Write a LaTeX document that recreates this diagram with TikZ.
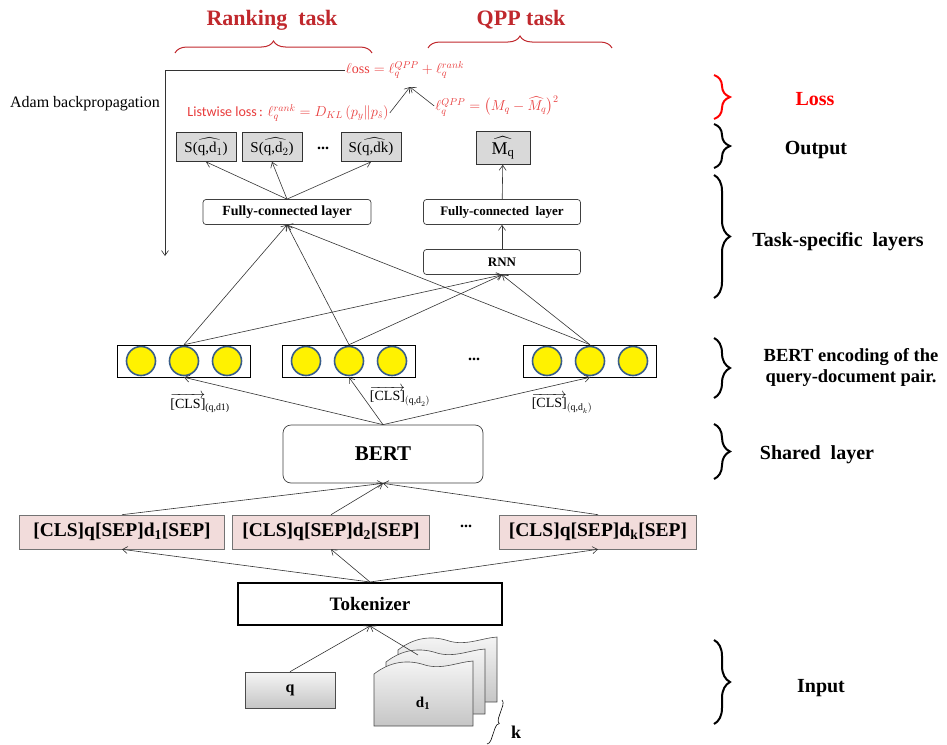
\documentclass[tikz,border=0pt]{standalone}
\usepackage{amsmath}
\usepackage{fontspec}
\setmainfont{Liberation Serif}
\newfontfamily\calibfont{Carlito}
\usetikzlibrary{arrows.meta,positioning,calc,decorations.pathreplacing}
\definecolor{titlered}{RGB}{192,40,45}
\definecolor{formred}{RGB}{232,60,60}
\definecolor{lossred}{RGB}{255,0,0}
\definecolor{seqpink}{RGB}{242,220,219}
\definecolor{outgray}{RGB}{217,217,217}
\definecolor{unitedge}{RGB}{56,93,138}
\tikzset{
  qpedge/.style={->,>={Straight Barb[length=5pt,width=7pt]},line width=0.6pt,draw=black!80},
  qplayer/.style={rectangle,rounded corners=3pt,draw=black!75,fill=white,line width=0.7pt,
    inner sep=0pt,minimum height=25pt,font=\bfseries\fontsize{14}{16}\selectfont},
  qpscore/.style={rectangle,draw=black!80,fill=outgray,line width=0.7pt,inner sep=0pt,
    minimum width=60pt,minimum height=29pt,font=\fontsize{15}{17}\selectfont},
  qpseq/.style={rectangle,draw=black!55,fill=seqpink,line width=0.6pt,inner sep=0pt,
    minimum width=197pt,minimum height=34pt,font=\bfseries\fontsize{19.5}{21}\selectfont},
  qpenc/.style={rectangle,draw=black,fill=white,line width=0.6pt,inner sep=0pt,
    minimum width=133pt,minimum height=32pt},
  qpunit/.style={circle,draw=unitedge,fill=yellow,line width=1.6pt,minimum size=29pt,inner sep=0pt},
  qpinput/.style={rectangle,draw=black!70,line width=0.6pt,top color=gray!8,bottom color=gray!45,
    inner sep=0pt,minimum width=90pt,minimum height=36pt,font=\bfseries\fontsize{16}{18}\selectfont},
  qpdoc/.style={draw=black!70,line width=0.6pt,top color=gray!8,bottom color=gray!45},
  qpbrace/.style={decorate,decoration={brace,amplitude=16pt},line width=2pt},
  qptopbrace/.style={decorate,decoration={brace,amplitude=12pt},line width=1pt,draw=titlered},
  qpside/.style={font=\bfseries\fontsize{20}{23}\selectfont,align=center},
  qptitle/.style={text=titlered,font=\bfseries\fontsize{22}{24}\selectfont},
  qpform/.style={text=formred,font=\fontsize{14}{16}\selectfont,inner sep=1pt},
  qpcls/.style={font=\fontsize{14}{16}\selectfont},
  qpdots/.style={font=\bfseries\fontsize{16}{18}\selectfont}
}

\begin{document}
\begin{tikzpicture}[x=1pt,y=-1pt]
  \useasboundingbox (0,0) rectangle (947,744);
  % tasks and losses
  \node[qptitle] (rtask) at (272,20) {Ranking\ \ task};
  \node[qptitle] (qtask) at (521,20) {QPP task};
  \draw[qptopbrace] (175,53) -- (372,53);
  \draw[qptopbrace] (428,48) -- (612,48);
  \node[qpform] (loss) at (405,70) {$\ell\mathrm{oss} = \ell_q^{QPP} + \ell_q^{rank}$};
  \node[qpform] (lrank) at (288,113) {{\calibfont Listwise loss\,:} $\ell_q^{rank} = D_{KL}\left(p_y \| p_{\hat{s}}\right)$};
  \node[qpform] (lqpp) at (497,106) {$\ell_q^{QPP} = \bigl(M_q - \widehat{M_q}\bigr)^2$};
  \node[font=\fontsize{16}{18}\selectfont] (adam) at (85,104) {Adam backpropagation};
  \coordinate (apex) at (410,87);
  \coordinate (adamend) at (165,256);
  \draw[qpedge] (lrank.east) -- (apex);
  \draw[qpedge] (lqpp.west) -- (apex);
  \draw[qpedge] (loss.west) -| (adamend);
  % outputs
  \node[qpscore] (s1) at (206,147) {S$\widehat{\text{(q,d$_1$)}}$};
  \node[qpscore] (s2) at (272,147) {S$\widehat{\text{(q,d$_2$)}}$};
  \node[qpdots] (sdots) at (323,148) {...};
  \node[qpscore] (sk) at (371,147) {S$\widehat{\text{(q,dk)}}$};
  \node[qpscore,minimum width=54pt,minimum height=33pt,font=\fontsize{18}{20}\selectfont] (mq) at (503,148) {$\widehat{\text{M}_\text{q}}$};
  % task-specific layers
  \node[qplayer,minimum width=168pt] (fcrank) at (287,212) {Fully-connected layer};
  \node[qplayer,minimum width=157pt,font=\bfseries\fontsize{13}{15}\selectfont] (fcqpp) at (502,212) {Fully-connected\ \ layer};
  \node[qplayer,minimum width=157pt,font=\bfseries\fontsize{13}{15}\selectfont] (rnn) at (502,262) {RNN};
  \foreach \s in {s1,s2,sk}
    \draw[qpedge] (fcrank.north) -- (\s.south);
  \draw[qpedge] (fcqpp) -- (mq);
  \draw[qpedge] (rnn) -- (fcqpp);
  % BERT encodings
  \foreach \n/\x in {1/184,2/349,3/590}{
    \node[qpenc] (enc\n) at (\x,361) {};
    \foreach \i/\d in {a/-43,b/0,c/43}
      \node[qpunit] (enc\n\i) at (\x+\d,361) {};
  }
  \node[qpdots] (encdots) at (474,359) {...};
  \node[qpcls] (cls1) at (200,403) {$\overrightarrow{\text{[CLS]}}_{\text{(q,d1)}}$};
  \node[qpcls] (cls2) at (400,396) {$\overrightarrow{\text{[CLS]}}_{(\text{q,d}_2)}$};
  \node[qpcls] (cls3) at (562,403) {$\overrightarrow{\text{[CLS]}}_{(\text{q,d}_k)}$};
  \foreach \n in {1,2,3}{
    \draw[qpedge] (enc\n.north) -- (fcrank.south);
    \draw[qpedge] (enc\n.north) -- (rnn.south);
  }
  % shared layer
  \node[rectangle,rounded corners=8pt,draw=black!75,fill=white,line width=0.7pt,minimum width=200pt,minimum height=58pt,
    font=\bfseries\fontsize{21}{23}\selectfont] (bert) at (383,454) {BERT};
  \foreach \n in {1,2,3}
    \draw[qpedge] (bert.north) -- (enc\n.south);
  % input sequences
  \node[qpseq,minimum width=205pt] (seqa) at (122,532) {[CLS]q[SEP]d\textsubscript{1}[SEP]};
  \node[qpseq] (seqb) at (331,532) {[CLS]q[SEP]d\textsubscript{2}[SEP]};
  \node[qpdots] (seqdots) at (466,526) {...};
  \node[qpseq] (seqc) at (598,532) {[CLS]q[SEP]d\textsubscript{k}[SEP]};
  \node[rectangle,draw=black,line width=2pt,fill=white,minimum width=264pt,minimum height=42pt,
    font=\bfseries\fontsize{19}{21}\selectfont] (tok) at (370,604) {Tokenizer};
  \foreach \s in {seqa,seqb,seqc}{
    \draw[qpedge] (\s.north) -- (bert.south);
    \draw[qpedge] (tok.north) -- (\s.south);
  }
  % query and documents
  \node[qpinput] (qin) at (290,690) {q};
  \foreach \dx/\dy in {24/-24,12/-12,0/0}{
    \begin{scope}[shift={(\dx,\dy)}]
      \draw[qpdoc] (374,674) .. controls (392,660) and (410,660) .. (425,665)
        .. controls (442,670) and (458,662) .. (473,661) -- (473,726) -- (374,726) -- cycle;
    \end{scope}
  }
  \node[font=\bfseries\fontsize{15}{17}\selectfont] (dlab) at (423,703) {d\textsubscript{1}};
  \coordinate (docin) at (418,655);
  \draw[qpedge] (qin.north) -- (tok.south);
  \draw[qpedge] (docin) -- (tok.south);
  \draw[decorate,decoration={brace,amplitude=5pt},line width=0.6pt] (502,700) -- (487,744);
  \node[font=\bfseries\fontsize{18}{20}\selectfont] (klab) at (516,732) {k};
  % levels on the right
  \draw[qpbrace,draw=lossred] (714,75) -- (714,119);
  \node[qpside,text=lossred] (llos) at (815,99) {Loss};
  \draw[qpbrace] (714,124) -- (714,168);
  \node[qpside] (lout) at (816,150) {Output};
  \draw[qpbrace] (714,175) -- (714,298);
  \node[qpside] (ltask) at (838,242) {Task-specific\ \ layers};
  \draw[qpbrace] (714,338) -- (714,398);
  \node[qpside,font=\bfseries\fontsize{18.5}{21}\selectfont] (lenc) at (851,367) {BERT encoding of the\\query-document pair.};
  \draw[qpbrace] (714,424) -- (714,479);
  \node[qpside] (lshared) at (817,455) {Shared\ \ layer};
  \draw[qpbrace] (714,640) -- (714,724);
  \node[qpside] (lin) at (821,688) {Input};
\end{tikzpicture}
\end{document}
